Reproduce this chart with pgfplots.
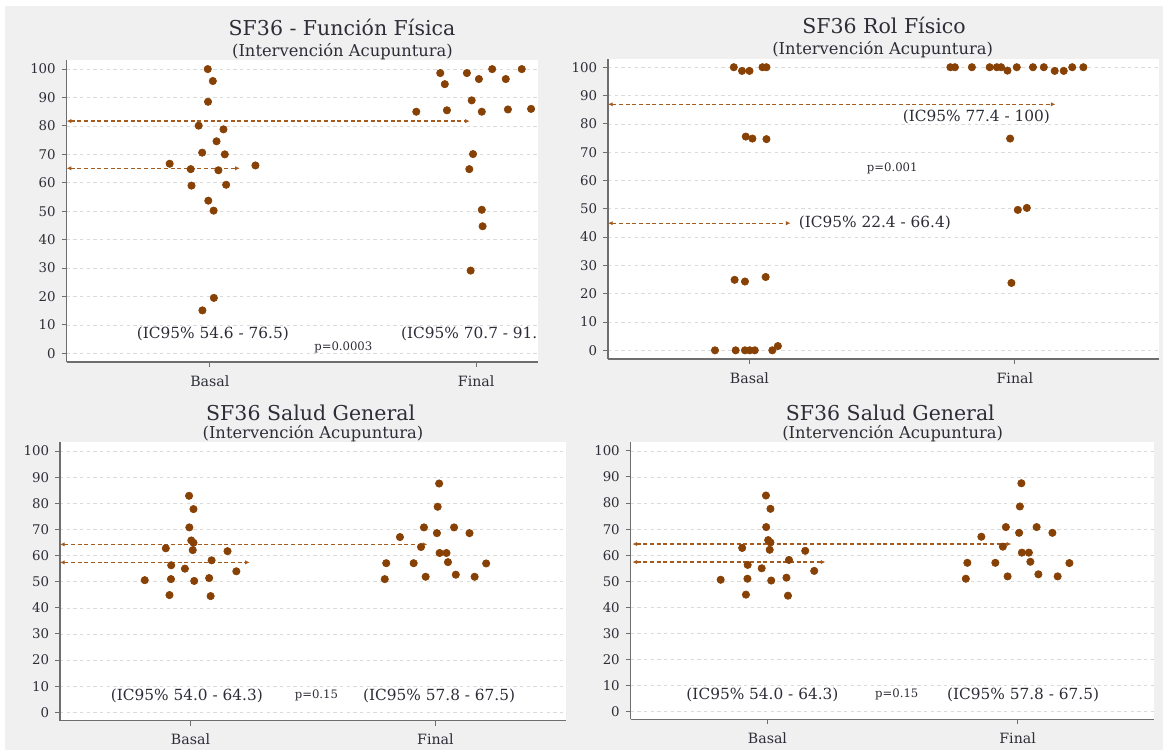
\documentclass[border=0pt]{standalone}
\usepackage{fontspec}
\setmainfont{DejaVu Serif}
\usepackage{pgfplots}
\pgfplotsset{compat=1.18}
\usepackage{pgfplotstable}
\usetikzlibrary{arrows.meta}
\definecolor{dot}{RGB}{135,65,5}
\definecolor{dline}{RGB}{165,90,30}
\definecolor{bg}{RGB}{240,240,240}
\definecolor{txt}{RGB}{45,45,55}
\definecolor{axl}{RGB}{110,110,110}
\definecolor{grd}{RGB}{218,218,218}

\pgfplotstableread{
x y
-0.187 50.6
-0.101 62.8
-0.079 56.3
-0.080 51.0
-0.086 44.9
-0.023 55.0
-0.006 82.9
0.012 77.8
-0.005 70.8
0.003 65.8
0.012 64.9
0.009 62.1
0.015 50.3
0.076 51.4
0.086 58.2
0.082 44.5
0.151 61.7
0.187 54.0
}\sgbasal
\pgfplotstableread{
x y
0.799 57.1
0.793 51.0
0.855 67.1
0.911 57.1
0.953 70.8
0.941 63.3
0.960 51.9
1.006 68.6
1.015 87.6
1.009 78.7
1.017 61.0
1.045 61.0
1.051 57.5
1.076 70.8
1.083 52.7
1.139 68.6
1.160 51.9
1.207 57.0
}\sgfinal

\tikzset{
  ictext/.style={font=\fontsize{9.2}{10}\selectfont, text=txt},
  ptext/.style={font=\fontsize{7}{8}\selectfont, text=txt},
  ttl/.style={font=\fontsize{12.3}{13}\selectfont, text=txt},
  sttl/.style={font=\fontsize{9.8}{10}\selectfont, text=txt},
}
\pgfplotsset{
  panel/.style={
    scale only axis, anchor=south west,
    axis x line*=bottom, axis y line*=left,
    axis line style={axl, line width=0.7pt},
    ytick={0,10,...,100}, xtick={0,1}, xticklabels={Basal,Final},
    tick align=outside, major tick length=3pt,
    tick style={axl, line width=0.6pt},
    ymajorgrids, grid style={grd, dash pattern=on 2pt off 2pt, line width=0.4pt},
    yticklabel style={font=\fontsize{8}{9}\selectfont, text=txt},
    xticklabel style={font=\fontsize{8.5}{9}\selectfont, text=txt, yshift=-1.5pt},
    /pgf/number format/assume math mode=true,
    axis background/.style={fill=white},
    clip=false,
  },
  dots/.style={only marks, mark=*, mark size=2.2pt, mark options={fill=dot, draw=dot}},
  ci/.style={dline, dash pattern=on 2.4pt off 1.6pt, line width=0.75pt,
    {Latex[length=2.8pt,width=2.6pt]}-{Latex[length=2.8pt,width=2.6pt]}},
}

\begin{document}
\begin{tikzpicture}
\fill[white] (0pt,0pt) rectangle (700.8pt,-452.4pt);
\fill[bg] (3pt,-3.6pt) rectangle (697.8pt,-450pt);

% titles
\node[ttl] at (205.2pt,-16.2pt) {SF36 - Función Física};
\node[sttl] at (205.5pt,-30.8pt) {(Intervención Acupuntura)};
\node[ttl] at (530.4pt,-15pt) {SF36 Rol Físico};
\node[sttl] at (529.6pt,-29.6pt) {(Intervención Acupuntura)};
\node[ttl] at (186.4pt,-247.8pt) {SF36 Salud General};
\node[sttl] at (187.8pt,-260pt) {(Intervención Acupuntura)};
\node[ttl] at (534.2pt,-247.8pt) {SF36 Salud General};
\node[sttl] at (535.6pt,-260pt) {(Intervención Acupuntura)};

% Top-left
\begin{axis}[panel, at={(39.96pt,-217.2pt)}, width=282.84pt, height=181.2pt,
  xmin=-0.538, xmax=1.232, ymin=-3.06, ymax=103.2]
\addplot[ci] coordinates {(-0.538,81.7) (0.976,81.7)};
\addplot[ci] coordinates {(-0.538,65.1) (0.1125,65.1)};
\addplot[dots] coordinates {(-0.008,100)(0.011,95.8)(-0.007,88.5)(-0.042,80.1)(0.051,78.8)(0.025,74.6)(-0.029,70.6)(0.056,70.0)(-0.151,66.7)(0.171,66.1)(-0.072,64.8)(0.032,64.4)(-0.069,59.0)(0.061,59.3)(-0.006,53.7)(0.014,50.2)(0.015,19.5)(-0.028,15.1)};
\addplot[dots] coordinates {(0.775,85.0)(0.865,98.6)(0.882,94.7)(0.890,85.5)(0.965,98.6)(0.983,89.0)(1.010,96.5)(1.021,85.0)(1.060,100)(1.111,96.5)(1.119,85.8)(1.171,100)(1.206,86.0)(0.988,70.1)(0.974,64.8)(1.021,50.5)(1.024,44.7)(0.979,29.1)};
\node[ictext] at (axis cs:0.011,7) {(IC95\% 54.6 - 76.5)};
\node[ictext, anchor=west, inner sep=0pt] at (axis cs:0.717,7) {(IC95\% 70.7 - 91.};
\node[ptext] at (axis cs:0.501,2) {p=0.0003};
\end{axis}

% Top-right
\begin{axis}[panel, at={(364.8pt,-215.4pt)}, width=330.6pt, height=179.82pt,
  xmin=-0.533, xmax=1.543, ymin=-3.07, ymax=102.8]
\addplot[ci] coordinates {(-0.533,86.9) (1.153,86.9)};
\addplot[ci] coordinates {(-0.533,44.9) (0.155,44.9)};
\addplot[dots] coordinates {(-0.059,100)(-0.028,98.7)(0.0,98.7)(0.049,100)(0.064,100)(-0.014,75.5)(0.011,74.8)(0.064,74.6)(-0.056,24.9)(-0.017,24.3)(0.061,25.9)(-0.130,0)(-0.052,0)(-0.017,0)(0.001,0)(0.020,0)(0.086,0)(0.107,1.5)};
\addplot[dots] coordinates {(0.757,100)(0.774,100)(0.838,100)(0.905,100)(0.932,100)(0.948,100)(0.972,98.8)(1.007,100)(1.068,100)(1.109,100)(1.150,98.7)(1.184,98.7)(1.216,100)(1.258,100)(0.982,74.8)(1.011,49.6)(1.045,50.3)(0.987,23.8)};
\node[ictext] at (axis cs:0.855,82.6) {(IC95\% 77.4 - 100)};
\node[ictext, anchor=west, inner sep=0pt] at (axis cs:0.185,44.9) {(IC95\% 22.4 - 66.4)};
\node[ptext] at (axis cs:0.538,64.3) {p=0.001};
\end{axis}

% Bottom-left
\begin{axis}[panel, at={(36pt,-432.42pt)}, width=303.6pt, height=167.4pt,
  xmin=-0.533, xmax=1.533, ymin=-3.2, ymax=103.6]
\addplot[ci] coordinates {(-0.533,64.3) (0.967,64.3)};
\addplot[ci] coordinates {(-0.533,57.4) (0.242,57.4)};
\addplot[dots] table[x=x,y=y] {\sgbasal};
\addplot[dots] table[x=x,y=y] {\sgfinal};
\node[ictext] at (axis cs:-0.015,6.4) {(IC95\% 54.0 - 64.3)};
\node[ptext] at (axis cs:0.514,6.6) {p=0.15};
\node[ictext] at (axis cs:1.015,6.4) {(IC95\% 57.8 - 67.5)};
\end{axis}

% Bottom-right
\begin{axis}[panel, at={(378.36pt,-431.58pt)}, width=313.86pt, height=166.2pt,
  xmin=-0.547, xmax=1.544, ymin=-2.9, ymax=103.3]
\addplot[ci] coordinates {(-0.54,64.3) (0.975,64.3)};
\addplot[ci] coordinates {(-0.54,57.4) (0.232,57.4)};
\addplot[dots] table[x=x,y=y] {\sgbasal};
\addplot[dots] table[x=x,y=y] {\sgfinal};
\node[ictext] at (axis cs:-0.02,6.4) {(IC95\% 54.0 - 64.3)};
\node[ptext] at (axis cs:0.517,6.6) {p=0.15};
\node[ictext] at (axis cs:1.022,6.4) {(IC95\% 57.8 - 67.5)};
\end{axis}
\end{tikzpicture}
\end{document}
